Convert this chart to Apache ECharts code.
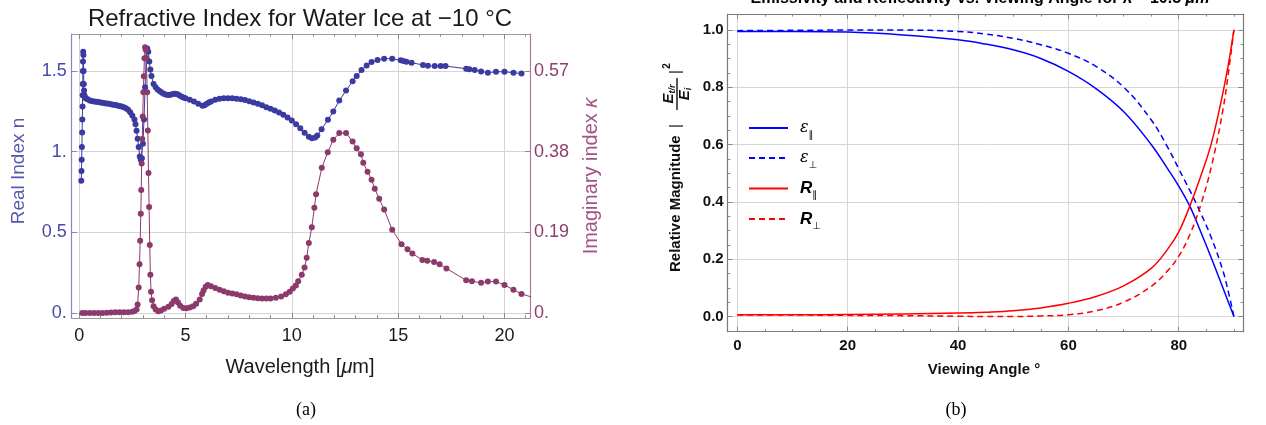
<!DOCTYPE html>
<html>
<head>
<meta charset="utf-8">
<script src="https://cdn.jsdelivr.net/npm/echarts@6/dist/echarts.min.js"></script>
<style>
html, body { margin: 0; padding: 0; background: #fff; }
#chart { width: 1266px; height: 425px; }
</style>
</head>
<body>
<div id="chart"></div>
<script>
// ---- (a) refractive index of ice ----
const wlReal = [0.10,0.11,0.12,0.13,0.14,0.15,0.16,0.165,0.17,0.175,0.18,0.19,0.20,0.21,0.22,0.23,0.25,0.28,0.32,0.4,
  0.5,0.6,0.7,0.8,0.9,1.0,1.1,1.2,1.3,1.4,1.5,1.6,1.7,1.8,1.9,2.0,2.1,2.2,2.3,2.4,
  2.5,2.6,2.65,2.7,2.75,2.8,2.85,2.9,2.95,3.0,3.05,3.1,3.15,3.2,3.25,3.3,3.35,3.4,3.5,3.6,
  3.7,3.8,3.9,4.0,4.1,4.2,4.3,4.4,4.5,4.6,4.7,4.8,4.9,5.0,5.2,5.4,5.6,5.8,5.9,6.0,
  6.1,6.2,6.4,6.6,6.8,7.0,7.2,7.4,7.6,7.8,8.0,8.2,8.4,8.6,8.8,9.0,9.2,9.4,9.6,9.8,
  10.0,10.2,10.4,10.6,10.8,10.95,11.1,11.2,11.4,11.7,11.95,12.23,12.55,12.86,13.05,13.28,13.52,13.75,14.03,14.34,
  14.72,15.12,15.25,15.39,15.63,16.17,16.4,16.72,17.0,17.23,18.2,18.35,18.6,18.9,19.22,19.6,20.0,20.42,20.8];
const nReal = [0.82,0.88,0.95,1.03,1.12,1.20,1.28,1.35,1.42,1.50,1.56,1.62,1.60,1.50,1.42,1.38,1.35,1.335,1.33,1.325,
  1.318,1.315,1.312,1.31,1.308,1.305,1.303,1.301,1.299,1.297,1.295,1.292,1.29,1.287,1.284,1.28,1.276,1.27,1.26,1.245,
  1.225,1.20,1.17,1.13,1.08,1.03,0.97,0.95,0.96,1.05,1.2,1.4,1.58,1.64,1.62,1.56,1.51,1.47,1.42,1.40,
  1.385,1.375,1.365,1.358,1.354,1.352,1.354,1.358,1.36,1.358,1.35,1.342,1.336,1.332,1.322,1.312,1.298,1.285,1.288,1.298,
  1.306,1.312,1.322,1.328,1.331,1.332,1.331,1.329,1.326,1.32,1.313,1.306,1.297,1.288,1.276,1.266,1.255,1.243,1.23,1.212,
  1.193,1.17,1.146,1.118,1.093,1.083,1.088,1.10,1.14,1.198,1.25,1.317,1.379,1.437,1.469,1.506,1.535,1.556,1.569,1.577,
  1.577,1.567,1.562,1.558,1.552,1.538,1.533,1.531,1.531,1.531,1.515,1.512,1.506,1.498,1.49,1.496,1.496,1.49,1.485];

const wlImag = [0.15,0.3,0.5,0.7,0.9,1.1,1.3,1.5,1.7,1.9,2.1,2.3,2.5,2.6,2.7,2.75,2.8,2.84,2.87,2.9,
  2.92,2.94,2.97,2.99,3.02,3.04,3.07,3.1,3.13,3.16,3.2,3.23,3.26,3.29,3.32,3.35,3.38,3.43,3.5,3.6,
  3.72,3.85,4.0,4.2,4.35,4.45,4.55,4.65,4.75,4.9,5.05,5.2,5.36,5.5,5.67,5.78,5.85,5.95,6.05,6.2,
  6.4,6.6,6.8,7.0,7.2,7.4,7.6,7.8,8.0,8.2,8.4,8.6,8.8,9.0,9.25,9.5,9.72,9.9,10.05,10.19,
  10.3,10.47,10.6,10.7,10.8,10.94,11.06,11.14,11.41,11.69,11.95,12.23,12.55,12.86,13.05,13.25,13.36,13.56,13.75,13.9,
  14.11,14.34,14.72,15.16,15.44,15.67,16.14,16.37,16.69,16.95,17.27,18.2,18.47,18.9,19.22,19.6,20.0,20.42,20.8,21.25];
const kImag = [0,0,0,0,0,0.0002,0.0005,0.001,0.0015,0.002,0.002,0.002,0.003,0.005,0.008,0.02,0.06,0.115,0.17,0.234,
  0.29,0.352,0.41,0.463,0.52,0.558,0.60,0.626,0.62,0.60,0.52,0.43,0.33,0.25,0.16,0.09,0.05,0.03,0.016,0.008,
  0.004,0.006,0.01,0.015,0.021,0.028,0.032,0.025,0.017,0.012,0.011,0.013,0.016,0.022,0.032,0.045,0.053,0.062,0.066,0.063,
  0.059,0.055,0.051,0.048,0.046,0.044,0.041,0.039,0.037,0.036,0.035,0.034,0.034,0.034,0.036,0.039,0.044,0.05,0.058,0.065,
  0.075,0.09,0.107,0.13,0.165,0.202,0.248,0.28,0.342,0.379,0.408,0.424,0.424,0.404,0.388,0.374,0.354,0.333,0.314,0.293,
  0.269,0.244,0.196,0.162,0.15,0.14,0.125,0.123,0.12,0.115,0.105,0.077,0.075,0.071,0.074,0.074,0.066,0.055,0.045,0.038];

const wlTicks = [0, 5, 10, 15, 20];
const wlMinor = [1,2,3,4,6,7,8,9,11,12,13,14,16,17,18,19,21];
const nTicks = [0, 0.5, 1, 1.5];
const kTicks = [0, 0.19, 0.38, 0.57];

// ---- (b) emissivity / reflectivity vs viewing angle ----
const angles = [0,10,20,30,40,45,50,55,60,65,70,75,78,80,82,84,86,88,89,90];
const epsPar = [0.994,0.994,0.992,0.982,0.965,0.95,0.93,0.90,0.855,0.795,0.715,0.60,0.515,0.455,0.385,0.295,0.20,0.10,0.05,0.0];
const epsPerp = [0.997,0.998,0.999,0.999,0.994,0.985,0.97,0.948,0.918,0.872,0.80,0.686,0.59,0.515,0.44,0.36,0.27,0.16,0.085,0.0];
const rPar = [0.006,0.006,0.007,0.009,0.012,0.015,0.02,0.03,0.046,0.07,0.107,0.168,0.235,0.295,0.385,0.49,0.61,0.78,0.88,1.0];
const rPerp = [0.005,0.005,0.004,0.003,0.001,0.0,0.0,0.002,0.006,0.02,0.05,0.105,0.16,0.21,0.285,0.39,0.53,0.72,0.85,1.0];

const angTicks = [0, 20, 40, 60, 80];
const angMinor = [5,10,15,25,30,35,45,50,55,65,70,75,85,90];
const magTicks = [0, 0.2, 0.4, 0.6, 0.8, 1.0];
const magMinor = [0.05,0.1,0.15,0.25,0.3,0.35,0.45,0.5,0.55,0.65,0.7,0.75,0.85,0.9,0.95];

const sans = '"Liberation Sans", Arial, sans-serif';

function zip(xs, ys) {
  return xs.map(function (x, i) { return [x, ys[i]]; });
}

// one axis: frame line + inside ticks at given values, optional labels / grid lines
function ax(grid, pos, min, max, vals, len, o) {
  o = o || {};
  return {
    type: 'value', gridIndex: grid, position: pos, min: min, max: max,
    axisLine: { show: !!o.line, onZero: false, lineStyle: { color: o.line || '#999', width: 1.2 } },
    axisTick: { show: true, inside: true, length: len, customValues: vals,
      lineStyle: { color: o.tickColor || '#888', width: 1 } },
    axisLabel: o.label ? Object.assign({ show: true, customValues: vals }, o.label) : { show: false },
    splitLine: { show: !!o.split, lineStyle: { color: o.split || '#ddd', width: 1 } }
  };
}

function dotLabel(v) {
  return Number.isInteger(v) ? v + '.' : String(v);
}

const blue = '#3a3aa0';
const plum = '#8c3a6c';

const xMinA = -0.35, xMaxA = 21.2;
const nMin = -0.031, nMax = 1.73;
const xMinB = -1.74, xMaxB = 91.7;
const yMinB = -0.053, yMaxB = 1.055;

const chart = echarts.init(document.getElementById('chart'));

const legendText = {
  epsPar: '{g|ε}{s|∥}',
  epsPerp: '{g|ε}{s|⊥}',
  rPar: '{r|R}{s|∥}',
  rPerp: '{r|R}{s|⊥}'
};

const option = {
  animation: false,
  backgroundColor: '#fff',
  grid: [
    { left: 71.7, right: 736, top: 34, bottom: 107 },
    { left: 727.7, right: 22.7, top: 14, bottom: 93.3 }
  ],
  xAxis: [
    ax(0, 'bottom', xMinA, xMaxA, wlTicks, 5, { line: '#9a9a9a', split: '#d4d4d4',
      label: { margin: 9, color: '#1a1a1a', fontSize: 18, fontFamily: sans } }),
    ax(0, 'bottom', xMinA, xMaxA, wlMinor, 2.7),
    ax(0, 'top', xMinA, xMaxA, wlTicks, 5, { line: '#9a9a9a' }),
    ax(0, 'top', xMinA, xMaxA, wlMinor, 2.7),
    ax(1, 'bottom', xMinB, xMaxB, angTicks, 5, { line: '#7a7a7a', split: '#d6d6d6',
      label: { margin: 7, color: '#111', fontSize: 15, fontWeight: 'bold', fontFamily: sans } }),
    ax(1, 'bottom', xMinB, xMaxB, angMinor, 2.6),
    ax(1, 'top', xMinB, xMaxB, angTicks, 5, { line: '#7a7a7a' }),
    ax(1, 'top', xMinB, xMaxB, angMinor, 2.6)
  ],
  yAxis: [
    ax(0, 'left', nMin, nMax, nTicks, 5, { line: '#8585c4', split: '#d4d4d4', tickColor: '#8585c4',
      label: { margin: 5, color: '#4848a8', fontSize: 18, fontFamily: sans, formatter: dotLabel } }),
    ax(0, 'right', nMin * 0.38, nMax * 0.38, kTicks, 5, { line: '#b07898', tickColor: '#b07898',
      label: { margin: 4, color: '#8e3f6f', fontSize: 18, fontFamily: sans, formatter: dotLabel } }),
    ax(1, 'left', yMinB, yMaxB, magTicks, 5, { line: '#7a7a7a', split: '#d6d6d6',
      label: { margin: 4, color: '#111', fontSize: 15, fontWeight: 'bold', fontFamily: sans,
        formatter: function (v) { return v.toFixed(1); } } }),
    ax(1, 'left', yMinB, yMaxB, magMinor, 2.6),
    ax(1, 'right', yMinB, yMaxB, magTicks, 5, { line: '#7a7a7a' }),
    ax(1, 'right', yMinB, yMaxB, magMinor, 2.6)
  ],
  legend: {
    data: ['epsPar', 'epsPerp', 'rPar', 'rPerp'],
    orient: 'vertical',
    left: 743, top: 115,
    itemWidth: 39, itemHeight: 14, itemGap: 10,
    itemStyle: { opacity: 0 },
    formatter: function (name) { return legendText[name]; },
    textStyle: {
      color: '#000', padding: [0, 0, 0, 7],
      rich: {
        g: { fontFamily: '"DejaVu Serif", serif', fontStyle: 'italic', fontSize: 16, lineHeight: 24, verticalAlign: 'middle', color: '#000' },
        r: { fontFamily: sans, fontStyle: 'italic', fontWeight: 'bold', fontSize: 17, lineHeight: 24, verticalAlign: 'middle', color: '#000' },
        s: { fontFamily: '"DejaVu Sans", sans-serif', fontSize: 10, lineHeight: 10, verticalAlign: 'bottom', color: '#000' }
      }
    }
  },
  series: [
    { name: 'real', type: 'line', xAxisIndex: 0, yAxisIndex: 0, data: zip(wlReal, nReal),
      symbol: 'circle', symbolSize: 6, showAllSymbol: true,
      itemStyle: { color: blue }, lineStyle: { color: blue, width: 1 } },
    { name: 'imag', type: 'line', xAxisIndex: 0, yAxisIndex: 1, data: zip(wlImag, kImag),
      symbol: 'circle', symbolSize: 6, showAllSymbol: true,
      itemStyle: { color: plum }, lineStyle: { color: plum, width: 1 } },
    { name: 'epsPar', type: 'line', xAxisIndex: 4, yAxisIndex: 2, data: zip(angles, epsPar),
      symbol: 'none', smooth: 0.4, color: '#0000ff', lineStyle: { color: '#0000ff', width: 1.5 } },
    { name: 'epsPerp', type: 'line', xAxisIndex: 4, yAxisIndex: 2, data: zip(angles, epsPerp),
      symbol: 'none', smooth: 0.4, color: '#0000ff', lineStyle: { color: '#0000ff', width: 1.5, type: [6, 4] } },
    { name: 'rPar', type: 'line', xAxisIndex: 4, yAxisIndex: 2, data: zip(angles, rPar),
      symbol: 'none', smooth: 0.4, color: '#ff0000', lineStyle: { color: '#ff0000', width: 1.5 } },
    { name: 'rPerp', type: 'line', xAxisIndex: 4, yAxisIndex: 2, data: zip(angles, rPerp),
      symbol: 'none', smooth: 0.4, color: '#ff0000', lineStyle: { color: '#ff0000', width: 1.5, type: [6, 4] } }
  ],
  graphic: [
    { type: 'text', x: 300, y: 19, style: { text: 'Refractive Index for Water Ice at −10 °C',
      font: '24px ' + sans, fill: '#1a1a1a', align: 'center', verticalAlign: 'middle', textAlign: 'center', textVerticalAlign: 'middle' } },
    { type: 'text', x: 300, y: 367, style: { text: 'Wavelength [{i|μ}m]',
      font: '20px ' + sans, fill: '#1a1a1a', align: 'center', verticalAlign: 'middle', textAlign: 'center', textVerticalAlign: 'middle',
      rich: { i: { fontStyle: 'italic', fontSize: 20, fontFamily: sans, fill: '#1a1a1a' } } } },
    { type: 'text', x: 19, y: 171, rotation: Math.PI / 2, style: { text: 'Real Index n',
      font: '19px ' + sans, fill: '#5858b0', align: 'center', verticalAlign: 'middle', textAlign: 'center', textVerticalAlign: 'middle' } },
    { type: 'text', x: 591, y: 176, rotation: Math.PI / 2, style: { text: 'Imaginary index {k|κ}',
      font: '20px ' + sans, fill: '#a05584', align: 'center', verticalAlign: 'middle', textAlign: 'center', textVerticalAlign: 'middle',
      rich: { k: { fontStyle: 'italic', fontSize: 20, fontFamily: sans, fill: '#a05584' } } } },
    { type: 'text', x: 306, y: 410, style: { text: '(a)', font: '18px "Liberation Serif", serif', fill: '#000',
      align: 'center', verticalAlign: 'middle', textAlign: 'center', textVerticalAlign: 'middle' } },
    { type: 'text', x: 980, y: -1, style: { text: 'Emissivity and Reflectivity vs. Viewing Angle for λ = 10.5 {i|μm}',
      font: 'bold 16px ' + sans, fill: '#000', align: 'center', verticalAlign: 'middle', textAlign: 'center', textVerticalAlign: 'middle',
      rich: { i: { fontStyle: 'italic', fontWeight: 'bold', fontSize: 16, fontFamily: sans, fill: '#000' } } } },
    { type: 'text', x: 984, y: 370, style: { text: 'Viewing Angle °', font: 'bold 15px ' + sans, fill: '#111',
      align: 'center', verticalAlign: 'middle', textAlign: 'center', textVerticalAlign: 'middle' } },
    { type: 'text', x: 956, y: 410, style: { text: '(b)', font: '18px "Liberation Serif", serif', fill: '#000',
      align: 'center', verticalAlign: 'middle', textAlign: 'center', textVerticalAlign: 'middle' } },
    { type: 'group', x: 677, y: 272, rotation: Math.PI / 2, children: [
      { type: 'text', x: 0, y: -1, style: { text: 'Relative Magnitude', font: 'bold 15px ' + sans, fill: '#111',
        align: 'left', verticalAlign: 'middle', textAlign: 'left', textVerticalAlign: 'middle' } },
      { type: 'text', x: 146, y: -1, style: { text: '|', font: '15px ' + sans, fill: '#111',
        align: 'center', verticalAlign: 'middle', textAlign: 'center', textVerticalAlign: 'middle' } },
      { type: 'text', x: 178, y: -8, style: { text: '{e|E}{s|t/r}', fill: '#111',
        align: 'center', verticalAlign: 'middle', textAlign: 'center', textVerticalAlign: 'middle',
        rich: { e: { font: 'bold italic 15px ' + sans, fill: '#111', lineHeight: 16, verticalAlign: 'middle' },
                s: { font: 'bold italic 9px ' + sans, fill: '#111', lineHeight: 9, verticalAlign: 'bottom' } } } },
      { type: 'line', shape: { x1: 162, y1: 0, x2: 194, y2: 0 }, style: { stroke: '#111', lineWidth: 1.4 } },
      { type: 'text', x: 178, y: 8, style: { text: '{e|E}{s|i}', fill: '#111',
        align: 'center', verticalAlign: 'middle', textAlign: 'center', textVerticalAlign: 'middle',
        rich: { e: { font: 'bold italic 15px ' + sans, fill: '#111', lineHeight: 16, verticalAlign: 'middle' },
                s: { font: 'bold italic 9px ' + sans, fill: '#111', lineHeight: 9, verticalAlign: 'bottom' } } } },
      { type: 'text', x: 200, y: -1, style: { text: '|', font: '15px ' + sans, fill: '#111',
        align: 'center', verticalAlign: 'middle', textAlign: 'center', textVerticalAlign: 'middle' } },
      { type: 'text', x: 206, y: -10, style: { text: '2', font: 'bold 10px ' + sans, fill: '#111',
        align: 'center', verticalAlign: 'middle', textAlign: 'center', textVerticalAlign: 'middle' } }
    ] }
  ]
};

chart.setOption(option);
</script>
</body>
</html>
